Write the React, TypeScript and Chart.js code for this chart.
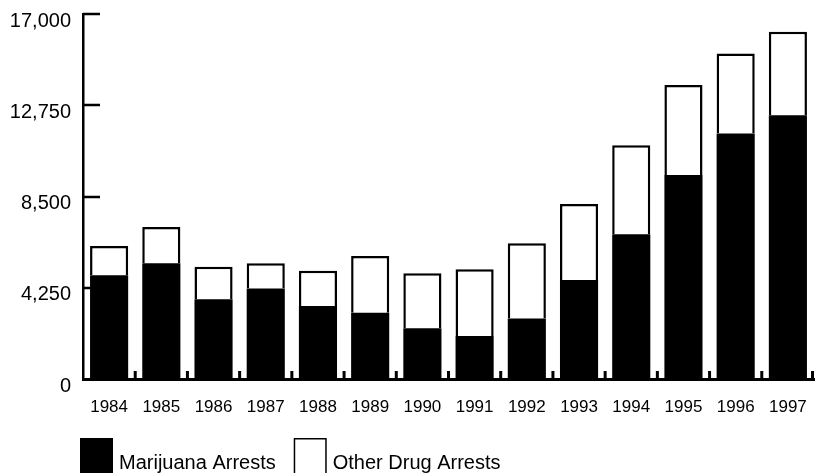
import React, { useEffect, useRef } from 'react';
import { Chart, registerables } from 'chart.js';

Chart.register(...registerables);

const years = ['1984', '1985', '1986', '1987', '1988', '1989', '1990', '1991', '1992', '1993', '1994', '1995', '1996', '1997'];
const marijuanaArrests = [4830, 5390, 3720, 4220, 3400, 3090, 2360, 2000, 2820, 4610, 6740, 9500, 11440, 12290];
const otherDrugArrests = [1360, 1690, 1510, 1170, 1640, 2640, 2560, 3110, 3500, 3540, 4150, 4190, 3720, 3880];
const yTicks = [0, 4250, 8500, 12750, 17000];
const seriesLabels = ['Marijuana Arrests', 'Other Drug Arrests'];

const FONT = '"Liberation Sans", Arial, Helvetica, sans-serif';

const innerTicks = {
  id: 'innerTicks',
  afterDatasetsDraw(chart: any) {
    const { ctx, chartArea, scales } = chart;
    const xs = scales.x;
    const ys = scales.y;
    ctx.save();
    ctx.strokeStyle = '#000';
    ctx.lineWidth = 2.5;
    ctx.beginPath();
    yTicks.forEach((v) => {
      if (v === 0) return;
      const py = Math.round(ys.getPixelForValue(v));
      ctx.moveTo(chartArea.left, py);
      ctx.lineTo(chartArea.left + 17, py);
    });
    ctx.stroke();
    ctx.lineWidth = 3;
    ctx.beginPath();
    for (let i = 0; i < years.length; i++) {
      const px = i < years.length - 1
        ? (xs.getPixelForValue(i) + xs.getPixelForValue(i + 1)) / 2
        : chartArea.right - 1.5;
      ctx.moveTo(px, chartArea.bottom);
      ctx.lineTo(px, chartArea.bottom - 8);
    }
    ctx.stroke();
    ctx.restore();
  },
};

const customLegend = {
  id: 'customLegend',
  afterDraw(chart: any) {
    const { ctx, chartArea } = chart;
    const top = chartArea.bottom + 59;
    let x = chartArea.left - 3;
    ctx.save();
    ctx.font = `20px ${FONT}`;
    ctx.textBaseline = 'alphabetic';
    ctx.textAlign = 'left';
    chart.data.datasets.forEach((ds: any) => {
      ctx.fillStyle = ds.backgroundColor;
      ctx.fillRect(x, top, 33, 40);
      ctx.strokeStyle = '#000';
      ctx.lineWidth = 1.5;
      ctx.strokeRect(x + 0.75, top + 0.75, 31.5, 40);
      ctx.fillStyle = '#000';
      ctx.fillText(ds.label, x + 39, top + 31);
      x += 39 + ctx.measureText(ds.label).width + 18;
    });
    ctx.restore();
  },
};

export default function App() {
  const canvasRef = useRef<HTMLCanvasElement | null>(null);

  useEffect(() => {
    if (!canvasRef.current) return;
    const chart = new Chart(canvasRef.current, {
      type: 'bar',
      data: {
        labels: years,
        datasets: [
          {
            label: seriesLabels[0],
            data: marijuanaArrests,
            backgroundColor: '#000000',
            borderColor: '#000000',
            borderWidth: 0,
            categoryPercentage: 1,
            barPercentage: 0.73,
          },
          {
            label: seriesLabels[1],
            data: otherDrugArrests,
            backgroundColor: '#ffffff',
            borderColor: '#000000',
            borderWidth: 2.5,
            categoryPercentage: 1,
            barPercentage: 0.73,
          },
        ],
      },
      options: {
        responsive: false,
        animation: false,
        layout: { padding: { top: 14, right: 1, left: 0, bottom: 0 } },
        plugins: {
          legend: { display: false },
          tooltip: { enabled: false },
        },
        scales: {
          x: {
            stacked: true,
            grid: { display: false, drawTicks: false },
            border: { display: true, color: '#000', width: 3 },
            ticks: {
              color: '#000',
              font: { family: FONT, size: 17 },
              padding: 18,
              maxRotation: 0,
              autoSkip: false,
            },
            afterFit(scale: any) {
              scale.height = 94;
              scale.paddingLeft = 0;
              scale.paddingRight = 0;
            },
          },
          y: {
            stacked: true,
            min: 0,
            max: 17000,
            grid: { display: false, drawTicks: false },
            border: { display: true, color: '#000', width: 2.5 },
            afterBuildTicks(scale: any) {
              scale.ticks = yTicks.map((v) => ({ value: v }));
            },
            ticks: {
              color: '#000',
              font: { family: FONT, size: 20 },
              padding: 12,
              labelOffset: 7,
              callback: (v: any) => Number(v).toLocaleString('en-US'),
            },
            afterFit(scale: any) {
              scale.width = 83;
              scale.paddingTop = 0;
              scale.paddingBottom = 0;
            },
          },
        },
      },
      plugins: [innerTicks, customLegend],
    });
    return () => chart.destroy();
  }, []);

  return (
    <div style={{ position: 'fixed', left: 0, top: 0, width: 815, height: 473, background: '#fff' }}>
      <canvas ref={canvasRef} width={815} height={473} />
    </div>
  );
}
